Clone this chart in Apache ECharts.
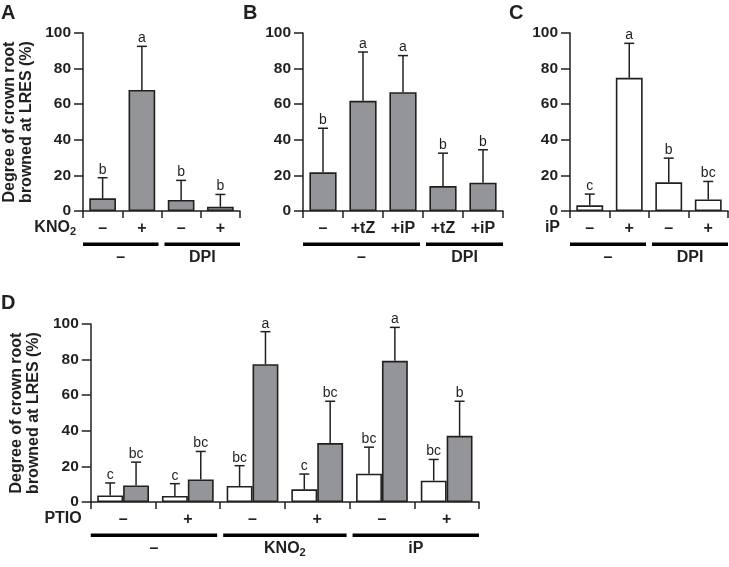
<!DOCTYPE html>
<html><head><meta charset="utf-8">
<script src="https://cdn.jsdelivr.net/npm/echarts@6/dist/echarts.min.js"></script>
<style>html,body{margin:0;padding:0;background:#fff}#c{width:729px;height:567px}</style>
</head><body><div id="c"></div>
<script>
// ---------- Panel A ----------
const catsA = ['–', '+', '–', '+'];
const valsA = [7.1, 68.0, 6.2, 2.4];
const errA = [11.6, 24.5, 11.0, 6.9];
const lettersA = ['b', 'a', 'b', 'b'];
const groupLabelsA = ['–', 'DPI'];
const groupSpansA = [[0, 1], [2, 3]];
// ---------- Panel B ----------
const catsB = ['–', '+tZ', '+iP', '+tZ', '+iP'];
const valsB = [21.7, 61.9, 66.7, 14.0, 15.9];
const errB = [24.8, 27.4, 20.6, 18.5, 18.5];
const lettersB = ['b', 'a', 'a', 'b', 'b'];
const groupLabelsB = ['–', 'DPI'];
const groupSpansB = [[0, 2], [3, 4]];
// ---------- Panel C ----------
const catsC = ['–', '+', '–', '+'];
const valsC = [3.2, 74.8, 16.1, 6.5];
const errC = [6.3, 19.4, 13.6, 10.1];
const lettersC = ['c', 'a', 'b', 'bc'];
const groupLabelsC = ['–', 'DPI'];
const groupSpansC = [[0, 1], [2, 3]];
// ---------- Panel D ----------
const catsD = ['–', '+', '–', '+', '–', '+'];
const valsDwhite = [3.7, 3.4, 9.0, 7.1, 15.9, 12.0];
const errDwhite = [7.0, 6.9, 11.4, 8.6, 14.9, 11.9];
const lettersDwhite = ['c', 'c', 'bc', 'c', 'bc', 'bc'];
const valsDgrey = [9.3, 12.7, 77.4, 33.1, 79.3, 37.2];
const errDgrey = [13.1, 15.7, 18.3, 23.5, 18.8, 19.4];
const lettersDgrey = ['bc', 'bc', 'a', 'bc', 'a', 'b'];
const groupLabelsD = ['–', 'KNO{s|2}', 'iP'];
const groupSpansD = [[0, 1], [2, 3], [4, 5]];
const yTicks = [0, 20, 40, 60, 80, 100];

const FONT = 'Liberation Sans, Arial, Helvetica, sans-serif';
const INK = '#231f20';
const GREY = '#939598';
const richSub = {
  m: { fontSize: 16, fontWeight: 'bold', color: INK, fontFamily: FONT },
  s: { fontSize: 11, fontWeight: 'bold', color: INK, fontFamily: FONT, padding: [8, 0, 0, 0] }
};

const chart = echarts.init(document.getElementById('c'), null, { renderer: 'canvas' });

function xAx(gi, cats, name, gap) {
  return {
    type: 'category', gridIndex: gi, data: cats,
    axisLine: { lineStyle: { color: INK, width: 1.5 } },
    axisTick: { show: true, length: 7, lineStyle: { color: INK, width: 1.5 } },
    axisLabel: { color: INK, fontSize: 16, fontWeight: 'bold', fontFamily: FONT, margin: 10 },
    name: name || '', nameLocation: 'start', nameGap: gap || 8,
    nameTextStyle: { color: INK, fontSize: 16, fontWeight: 'bold', fontFamily: FONT,
      align: 'right', verticalAlign: 'middle', padding: [34, 0, 0, 0], rich: richSub }
  };
}
function yAx(gi, withName) {
  return {
    type: 'value', gridIndex: gi, min: yTicks[0], max: yTicks[yTicks.length - 1], interval: 20,
    axisLine: { show: true, lineStyle: { color: INK, width: 1.5 } },
    axisTick: { show: true, length: 9, lineStyle: { color: INK, width: 1.5 } },
    splitLine: { show: false },
    axisLabel: { color: INK, fontSize: 15.5, fontWeight: 'bold', fontFamily: FONT, margin: 12 },
    name: withName ? 'Degree of crown root\nbrowned at LRES (%)' : '',
    nameLocation: 'middle', nameGap: 48, nameRotate: 90,
    nameTextStyle: { color: INK, fontSize: 16, fontWeight: 'bold', fontFamily: FONT, lineHeight: 17 }
  };
}
function barSeries(gi, vals, color, width, gapCat) {
  const s = {
    type: 'bar', xAxisIndex: gi, yAxisIndex: gi, data: vals,
    itemStyle: { color: color, borderColor: INK, borderWidth: 1.6 },
    barGap: '0%'
  };
  if (width) s.barWidth = width;
  if (gapCat) s.barCategoryGap = gapCat;
  return s;
}
function errSeries(gi, vals, errs, letters, offFrac) {
  return {
    type: 'custom', xAxisIndex: gi, yAxisIndex: gi, z: 5, clip: false,
    data: vals.map((v, i) => [i, v, errs[i]]),
    renderItem(params, api) {
      const i = api.value(0), v = api.value(1), e = api.value(2);
      const band = api.size([1, 0])[0];
      const p = api.coord([i, v]);
      const cx = p[0] + offFrac * band;
      const yBar = p[1];
      const yTop = api.coord([i, v + e])[1];
      const ls = { stroke: INK, lineWidth: 1.5 };
      return {
        type: 'group', children: [
          { type: 'line', shape: { x1: cx, y1: yBar, x2: cx, y2: yTop }, style: ls },
          { type: 'line', shape: { x1: cx - 5, y1: yTop, x2: cx + 5, y2: yTop }, style: ls },
          { type: 'text', x: cx, y: yTop - 1, style: { text: letters[params.dataIndex], align: 'center', verticalAlign: 'bottom',
              fontSize: 14, fontFamily: FONT, fill: INK } }
        ]
      };
    }
  };
}
function groupSeries(gi, spans, labels, nCats) {
  return {
    type: 'custom', xAxisIndex: gi, yAxisIndex: gi, z: 5, clip: false, silent: true,
    data: spans.map(s => [s[0], s[1]]),
    renderItem(params, api) {
      const from = api.value(0), to = api.value(1);
      const band = api.size([1, 0])[0];
      const base = api.coord([from, 0]);
      let x0 = base[0] - band / 2;
      let x1 = api.coord([to, 0])[0] + band / 2;
      if (from > 0) x0 += 3;
      if (to < nCats - 1) x1 -= 3;
      const y = base[1];
      return {
        type: 'group', children: [
          { type: 'rect', shape: { x: x0, y: y + 31.5, width: x1 - x0, height: 3.5 }, style: { fill: '#000' } },
          { type: 'text', x: (x0 + x1) / 2, y: y + 47, style: { text: labels[params.dataIndex], align: 'center', verticalAlign: 'middle',
              fontSize: 16, fontWeight: 'bold', fontFamily: FONT, fill: INK, rich: richSub } }
        ]
      };
    }
  };
}

const option = {
  animation: false,
  textStyle: { fontFamily: FONT },
  title: [
    { text: 'A', left: 1, top: 3, padding: 0, textStyle: { fontSize: 20, fontWeight: 'bold', color: INK, fontFamily: FONT } },
    { text: 'B', left: 243, top: 3, padding: 0, textStyle: { fontSize: 20, fontWeight: 'bold', color: INK, fontFamily: FONT } },
    { text: 'C', left: 509, top: 3, padding: 0, textStyle: { fontSize: 20, fontWeight: 'bold', color: INK, fontFamily: FONT } },
    { text: 'D', left: 1, top: 293, padding: 0, textStyle: { fontSize: 20, fontWeight: 'bold', color: INK, fontFamily: FONT } }
  ],
  grid: [
    { left: 82, top: 33, width: 158, height: 178 },
    { left: 303, top: 33, width: 200, height: 178 },
    { left: 570, top: 33, width: 158, height: 178 },
    { left: 81, top: 324, width: 398, height: 178 }
  ],
  xAxis: [
    xAx(0, catsA, '{m|KNO}{s|2}', 7),
    xAx(1, catsB, '', 8),
    xAx(2, catsC, 'iP', 10),
    xAx(3, catsD, 'PTIO', 9)
  ],
  yAxis: [yAx(0, true), yAx(1, false), yAx(2, false), yAx(3, true)],
  series: [
    barSeries(0, valsA, GREY, '68%'),
    errSeries(0, valsA, errA, lettersA, 0),
    groupSeries(0, groupSpansA, groupLabelsA, catsA.length),
    barSeries(1, valsB, GREY, '68%'),
    errSeries(1, valsB, errB, lettersB, 0),
    groupSeries(1, groupSpansB, groupLabelsB, catsB.length),
    barSeries(2, valsC, '#ffffff', '68%'),
    errSeries(2, valsC, errC, lettersC, 0),
    groupSeries(2, groupSpansC, groupLabelsC, catsC.length),
    barSeries(3, valsDwhite, '#ffffff', null, '20%'),
    barSeries(3, valsDgrey, GREY, null, '20%'),
    errSeries(3, valsDwhite, errDwhite, lettersDwhite, -0.2),
    errSeries(3, valsDgrey, errDgrey, lettersDgrey, 0.2),
    groupSeries(3, groupSpansD, groupLabelsD, catsD.length)
  ]
};
chart.setOption(option);
</script>
</body></html>
